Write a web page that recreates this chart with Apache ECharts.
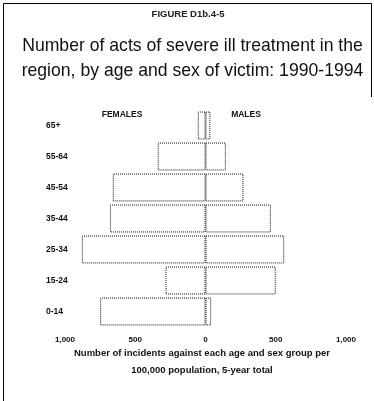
<!DOCTYPE html>
<html>
<head>
<meta charset="utf-8">
<script src="https://cdn.jsdelivr.net/npm/echarts@6/dist/echarts.min.js"></script>
<style>
  html, body { margin: 0; padding: 0; background: #fff; }
  #chart { width: 374px; height: 401px; }
</style>
</head>
<body>
<div id="chart"></div>
<script>
// Age groups, top row first
var ageGroups = ['65+', '55-64', '45-54', '35-44', '25-34', '15-24', '0-14'];
// Acts of severe ill treatment, 1990-1994
var femaleActs = [55, 340, 660, 680, 880, 285, 750];
var maleActs = [35, 145, 270, 465, 560, 500, 40];
// Axis ticks (shown as absolute values on both sides)
var tickMin = -1000, tickMax = 1000, tickStep = 500;

var sans = "'Liberation Sans', Arial, sans-serif";

var chart = echarts.init(document.getElementById('chart'), null, { renderer: 'canvas' });

var barStyle = {
  color: '#ffffff',
  borderColor: '#111',
  borderWidth: 1,
  borderType: 'dotted'
};

chart.setOption({
  animation: false,
  backgroundColor: '#ffffff',
  grid: { left: 65, right: 28, top: 110, bottom: 74 },
  xAxis: {
    type: 'value',
    min: tickMin,
    max: tickMax,
    interval: tickStep,
    axisLine: { show: false },
    axisTick: { show: false },
    splitLine: { show: false },
    axisLabel: {
      margin: 9,
      fontFamily: sans,
      fontSize: 8,
      fontWeight: 'bold',
      color: '#111',
      formatter: function (v) { return Math.abs(v).toLocaleString('en-US'); }
    }
  },
  yAxis: {
    type: 'category',
    data: ageGroups,
    inverse: true,
    axisLine: { show: false },
    axisTick: { show: false },
    axisLabel: {
      align: 'left',
      margin: 19,
      fontFamily: sans,
      fontSize: 8.5,
      fontWeight: 'bold',
      color: '#111'
    }
  },
  series: [
    {
      name: 'FEMALES',
      type: 'bar',
      stack: 'acts',
      barCategoryGap: '10%',
      itemStyle: barStyle,
      data: femaleActs.map(function (v) { return -v; })
    },
    {
      name: 'MALES',
      type: 'bar',
      stack: 'acts',
      barCategoryGap: '10%',
      itemStyle: barStyle,
      data: maleActs
    }
  ],
  graphic: [
    // frame
    { type: 'line', shape: { x1: 3.5, y1: 3.5, x2: 371.5, y2: 3.5 }, style: { stroke: '#000', lineWidth: 1 } },
    { type: 'line', shape: { x1: 3.5, y1: 3.5, x2: 3.5, y2: 401 }, style: { stroke: '#000', lineWidth: 1 } },
    { type: 'line', shape: { x1: 371.5, y1: 3.5, x2: 371.5, y2: 97 }, style: { stroke: '#000', lineWidth: 1 } },
    // headings
    { type: 'text', x: 188, y: 9, style: { text: 'FIGURE D1b.4-5', font: 'bold 9.5px ' + sans, fill: '#222', align: 'center' } },
    { type: 'text', x: 192.5, y: 33, scaleX: 0.927, originX: 0, originY: 0, style: {
        text: 'Number of acts of severe ill treatment in the\nregion, by age and sex of victim: 1990-1994',
        font: '19px ' + sans, lineHeight: 25, fill: '#111', align: 'center' } },
    // side labels
    { type: 'text', x: 122, y: 115, style: { text: 'FEMALES', font: 'bold 8.5px ' + sans, fill: '#111', align: 'center', verticalAlign: 'middle' } },
    { type: 'text', x: 246, y: 115, style: { text: 'MALES', font: 'bold 8.5px ' + sans, fill: '#111', align: 'center', verticalAlign: 'middle' } },
    // x axis title
    { type: 'text', x: 202, y: 345, style: {
        text: 'Number of incidents against each age and sex group per\n100,000 population, 5-year total',
        font: 'bold 9.5px ' + sans, lineHeight: 17, fill: '#111', align: 'center' } }
  ]
});
</script>
</body>
</html>
